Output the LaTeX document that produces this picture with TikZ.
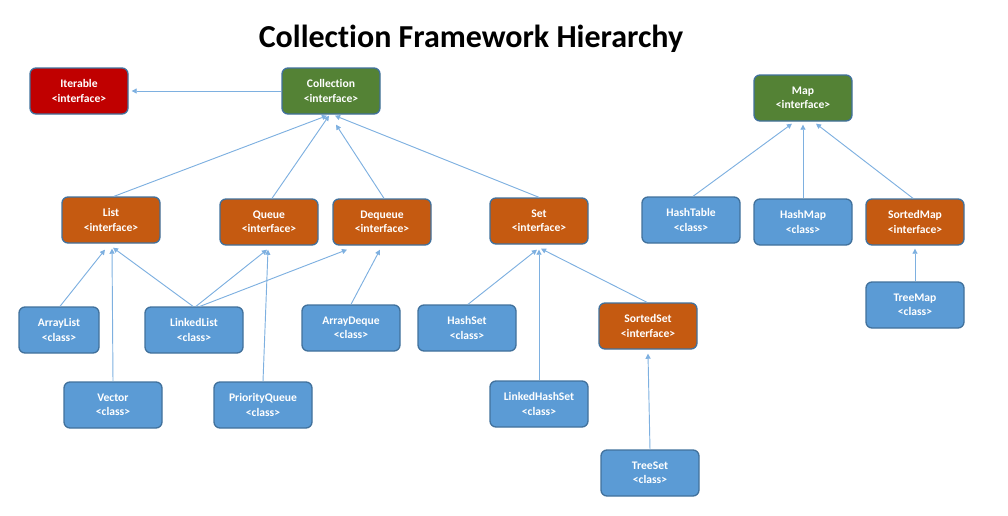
\documentclass[tikz,border=0pt]{standalone}
\usepackage{fontspec}
\setmainfont{Carlito}[Ligatures=NoCommon]
\usepackage{xcolor}
\usepackage{tikz}
\usetikzlibrary{arrows.meta}
\usetikzlibrary{calc}

\definecolor{iterred}{HTML}{C00000}
\definecolor{ifgreen}{HTML}{548235}
\definecolor{iforange}{HTML}{C55A11}
\definecolor{clsblue}{HTML}{5B9BD5}
\definecolor{boxedge}{HTML}{41719C}
\definecolor{linkblue}{HTML}{7EB0E0}

\tikzset{
  box/.style={draw=boxedge, line width=1pt, rounded corners=4.5pt,
    minimum width=73.5pt, minimum height=34.5pt, inner sep=1pt,
    text=white, align=center, font=\bfseries\fontsize{8.7}{10.6}\selectfont},
  redbox/.style={box, fill=iterred},
  greenbox/.style={box, fill=ifgreen},
  orangebox/.style={box, fill=iforange},
  bluebox/.style={box, fill=clsblue},
  link/.style={draw=linkblue, line width=0.7pt,
    -{Triangle[length=3.8pt,width=3.8pt]}}
}

\begin{document}
\begin{tikzpicture}[x=0.75pt,y=-0.75pt]
                \useasboundingbox (0,0) rectangle (1008,515);
                % Title
                \node[anchor=base, font=\bfseries\fontsize{24}{28}\selectfont] (title) at (471,47) {Collection Framework Hierarchy};

                % Top level
                \node[redbox] (Iterable) at (79,91) {Iterable\\<interface>};
                \node[greenbox] (Collection) at (331,91) {Collection\\<interface>};
                \node[greenbox] (Map) at (803,98) {Map\\<interface>};

                % Interfaces
                \node[orangebox] (List) at (111,220) {List\\<interface>};
                \node[orangebox] (Queue) at (269,222) {Queue\\<interface>};
                \node[orangebox] (Dequeue) at (382,222) {Dequeue\\<interface>};
                \node[orangebox] (Set) at (539,221) {Set\\<interface>};
                \node[bluebox] (HashTable) at (691,220) {HashTable\\<class>};
                \node[bluebox] (HashMap) at (803,222) {HashMap\\<class>};
                \node[orangebox] (SortedMap) at (915,222) {SortedMap\\<interface>};

                % Classes
                \node[bluebox, minimum width=60pt] (ArrayList) at (59,330) {ArrayList\\<class>};
                \node[bluebox] (LinkedList) at (194,330) {LinkedList\\<class>};
                \node[bluebox] (ArrayDeque) at (351,328) {ArrayDeque\\<class>};
                \node[bluebox] (HashSet) at (467,328) {HashSet\\<class>};
                \node[orangebox] (SortedSet) at (648,326) {SortedSet\\<interface>};
                \node[bluebox] (TreeMap) at (915,305) {TreeMap\\<class>};
                \node[bluebox] (Vector) at (113,405) {Vector\\<class>};
                \node[bluebox] (PriorityQueue) at (263,405) {PriorityQueue\\<class>};
                \node[bluebox] (LinkedHashSet) at (539,404) {LinkedHashSet\\<class>};
                \node[bluebox] (TreeSet) at (650,473) {TreeSet\\<class>};

                % Collection side
                \draw[link] (Collection.west) -- ($(Iterable.east)+(3,0)$);
                \draw[link] ($(List.north)+(3,0)$) -- ($(Collection.south)+(-4,1)$);
                \draw[link] ($(Queue.north)+(3,0)$) -- ($(Collection.south)+(-2,1)$);
                \draw[link] ($(Dequeue.north)+(2,0)$) -- ($(Collection.south)+(5,10)$);
                \draw[link] (Set.north) -- ($(Collection.south)+(4,1)$);

                \draw[link] ($(ArrayList.north)+(1,0)$) -- ($(List.south)+(-6,6)$);
                \draw[link] (Vector.north) -- ($(List.south)+(1,5)$);
                \draw[link] ($(LinkedList.north)+(-1,0)$) -- ($(List.south)+(2,4)$);
                \draw[link] ($(LinkedList.north)+(2,0)$) -- ($(Queue.south)+(-2,4)$);
                \draw[link] ($(LinkedList.north)+(6,0)$) -- ($(Dequeue.south)+(-35,4)$);
                \draw[link] (PriorityQueue.north) -- ($(Queue.south)+(-1,4)$);
                \draw[link] (ArrayDeque.north) -- ($(Dequeue.south)+(-2,4)$);

                \draw[link] ($(HashSet.north)+(1,0)$) -- ($(Set.south)+(-2,5)$);
                \draw[link] (LinkedHashSet.north) -- ($(Set.south)+(0,5)$);
                \draw[link] ($(SortedSet.north)+(-1,0)$) -- ($(Set.south)+(2,4)$);
                \draw[link] (TreeSet.north) -- ($(SortedSet.south)+(0,4)$);

                % Map side
                \draw[link] ($(HashTable.north)+(2,0)$) -- ($(Map.south)+(-11,2)$);
                \draw[link] (HashMap.north) -- ($(Map.south)+(0,3)$);
                \draw[link] ($(SortedMap.north)+(-2,0)$) -- ($(Map.south)+(13,2)$);
                \draw[link] (TreeMap.north) -- ($(SortedMap.south)+(0,3)$);
            \end{tikzpicture}
\end{document}
